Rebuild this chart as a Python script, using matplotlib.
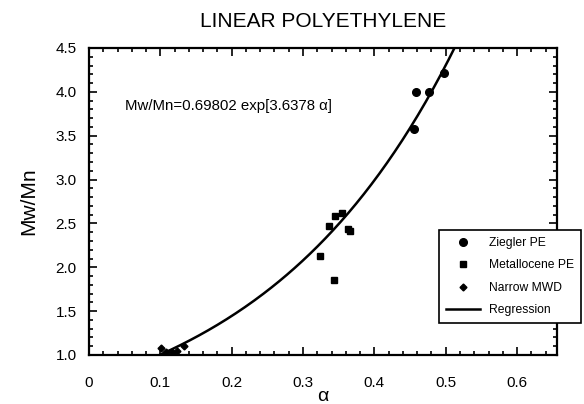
import numpy as np
import matplotlib
matplotlib.use("Agg")
import matplotlib.pyplot as plt
from matplotlib.ticker import MultipleLocator

plt.rcParams['font.family'] = ['Liberation Sans', 'DejaVu Sans']

# measured polydispersity vs. alpha
ziegler_alpha = [0.456, 0.459, 0.476, 0.497]
ziegler_mwmn = [3.58, 4.00, 4.00, 4.22]

metallocene_alpha = [0.324, 0.336, 0.345, 0.355, 0.344, 0.363, 0.366]
metallocene_mwmn = [2.13, 2.47, 2.59, 2.62, 1.86, 2.44, 2.41]

narrow_alpha = [0.101, 0.108, 0.116, 0.124, 0.133]
narrow_mwmn = [1.08, 1.03, 1.03, 1.05, 1.10]

# regression Mw/Mn = a * exp(b * alpha)
coef_a = 0.69802
coef_b = 3.6378

fig = plt.figure(figsize=(5.84, 4.04), dpi=100)
ax = fig.add_axes([0.1524, 0.1213, 0.8014, 0.7599])

fit_x = np.linspace(0.1, 0.53, 200)
fit_y = coef_a * np.exp(coef_b * fit_x)

ax.plot(ziegler_alpha, ziegler_mwmn, 'o', color='black', ms=5.5, label='Ziegler PE')
ax.plot(metallocene_alpha, metallocene_mwmn, 's', color='black', ms=5, label='Metallocene PE')
ax.plot(narrow_alpha, narrow_mwmn, 'D', color='black', ms=3.5, label='Narrow MWD')
ax.plot(fit_x, fit_y, '-', color='black', lw=1.8, label='Regression')

ax.set_xlim(0, 0.656)
ax.set_ylim(1.0, 4.5)
ax.xaxis.set_major_locator(MultipleLocator(0.1))
ax.xaxis.set_minor_locator(MultipleLocator(0.02))
ax.yaxis.set_major_locator(MultipleLocator(0.5))
ax.yaxis.set_minor_locator(MultipleLocator(0.1))
ax.set_xticks([0, 0.1, 0.2, 0.3, 0.4, 0.5, 0.6])
ax.set_xticklabels(['0', '0.1', '0.2', '0.3', '0.4', '0.5', '0.6'])
ax.set_yticklabels([f'{v:.1f}' for v in ax.get_yticks()])
ax.tick_params(which='both', direction='in', top=True, right=True, labelsize=11, width=1.2)
ax.tick_params(which='major', length=6)
ax.tick_params(axis='x', which='major', pad=15)
ax.tick_params(axis='y', which='major', pad=9)
ax.tick_params(which='minor', length=3)
for sp in ax.spines.values():
    sp.set_linewidth(1.6)

ax.set_title('LINEAR POLYETHYLENE', fontsize=15, pad=15)
ax.set_ylabel('Mw/Mn', fontsize=15, labelpad=12)
ax.set_xlabel('α', fontsize=14, labelpad=-1)

ax.text(0.05, 3.79, 'Mw/Mn=0.69802 exp[3.6378 α]', fontsize=10.8)

leg = ax.legend(loc='upper left', bbox_to_anchor=(0.735, 0.427), fontsize=8.7,
                frameon=True, fancybox=False, framealpha=1, edgecolor='black',
                handlelength=2.8, handletextpad=0.7, borderpad=0.6, labelspacing=0.85)
leg.get_frame().set_linewidth(1.2)

fig.savefig('out.png', dpi=100)
